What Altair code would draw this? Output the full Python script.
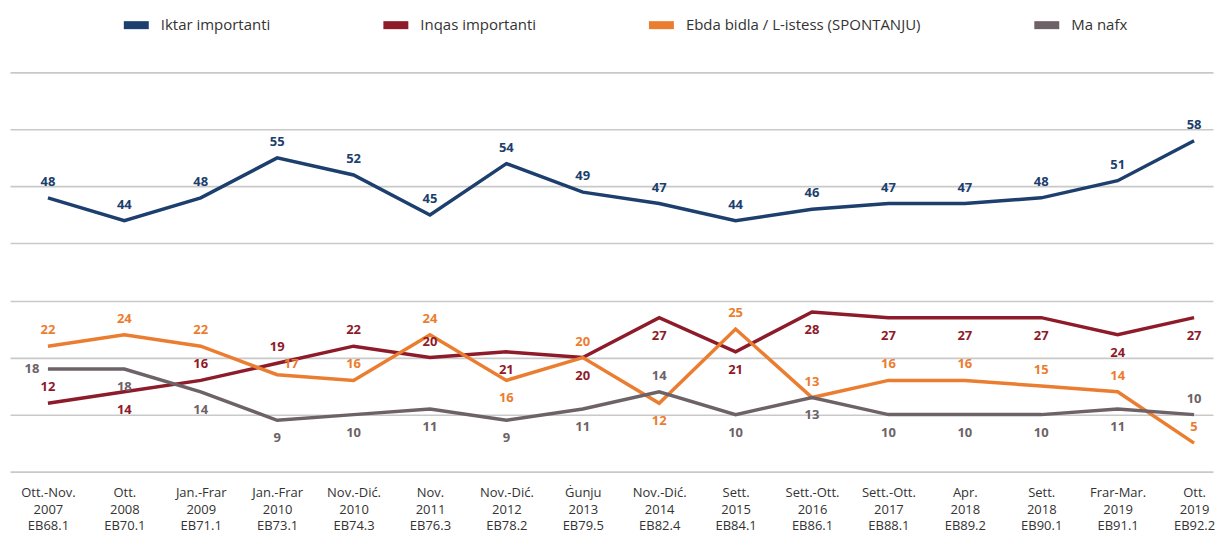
import json
import altair as alt
import pandas as pd

periods = [
    "Ott.-Nov.|2007|EB68.1", "Ott.|2008|EB70.1", "Jan.-Frar|2009|EB71.1",
    "Jan.-Frar|2010|EB73.1", "Nov.-Dić.|2010|EB74.3", "Nov.|2011|EB76.3",
    "Nov.-Dić.|2012|EB78.2", "Ġunju|2013|EB79.5", "Nov.-Dić.|2014|EB82.4",
    "Sett.|2015|EB84.1", "Sett.-Ott.|2016|EB86.1", "Sett.-Ott.|2017|EB88.1",
    "Apr.|2018|EB89.2", "Sett.|2018|EB90.1", "Frar-Mar.|2019|EB91.1",
    "Ott.|2019|EB92.2",
]

series = ["Iktar importanti", "Inqas importanti",
          "Ebda bidla / L-istess (SPONTANJU)", "Ma nafx"]
colors = ["#1d3f6e", "#8e1b2a", "#eb7d30", "#6d6268"]

iktar = [48, 44, 48, 55, 52, 45, 54, 49, 47, 44, 46, 47, 47, 48, 51, 58]
inqas = [12, 14, 16, 19, 22, 20, 21, 20, 27, 21, 28, 27, 27, 27, 24, 27]
ebda = [22, 24, 22, 17, 16, 24, 16, 20, 12, 25, 13, 16, 16, 15, 14, 5]
manafx = [18, 18, 14, 9, 10, 11, 9, 11, 14, 10, 13, 10, 10, 10, 11, 10]

# label side: a = above, b = below, l = left, ar = above-right
place_iktar = ["a"] * 16
place_inqas = ["a", "b", "a", "a", "a", "a", "b", "b", "b", "b", "b", "b", "b", "b", "b", "b"]
place_ebda = ["a", "a", "a", "ar", "a", "a", "b", "a", "b", "a", "a", "a", "a", "a", "a", "a"]
place_manafx = ["l", "b", "b", "b", "b", "b", "b", "b", "a", "b", "b", "b", "b", "b", "b", "a"]

rows = []
for name, vals, places in zip(series, [iktar, inqas, ebda, manafx],
                              [place_iktar, place_inqas, place_ebda, place_manafx]):
    for i, (v, p) in enumerate(zip(vals, places)):
        rows.append({"idx": i, "series": name, "value": v, "place": p,
                     "order": series.index(name)})
df = pd.DataFrame(rows)

label_expr = "split(" + json.dumps(periods, ensure_ascii=False) + "[datum.value], '|')"

x = alt.X("idx:Q",
          scale=alt.Scale(domain=[-0.4965, 15.248], nice=False, zero=False),
          axis=alt.Axis(values=list(range(16)), labelExpr=label_expr, title=None,
                        grid=False, domain=False, ticks=False, labelPadding=15,
                        labelFontSize=13, labelLineHeight=16.5, labelColor="#333333",
                        labelOverlap=False, labelFlush=False, labelBound=False))
y = alt.Y("value:Q",
          scale=alt.Scale(domain=[0, 70], nice=False),
          axis=alt.Axis(values=list(range(0, 71, 10)), labels=False, ticks=False,
                        domain=False, title=None, grid=True, gridColor="#c9c9c9",
                        gridWidth=1.6))

color_scale = alt.Scale(domain=series, range=colors)

lines = alt.Chart(df).mark_line(strokeWidth=3.5).encode(
    x=x, y=y,
    color=alt.Color("series:N", scale=color_scale, sort=series,
                    legend=alt.Legend(orient="none", legendX=110, legendY=-64,
                                      direction="horizontal", title=None, padding=0,
                                      labelFontSize=15, labelColor="#333333",
                                      symbolType="stroke", symbolStrokeWidth=8,
                                      symbolSize=625, columnPadding=97,
                                      labelLimit=400, labelOffset=8)),
    order="order:Q",
)

offsets = {"a": (0, -16), "b": (0, 18), "l": (-16, 0), "ar": (14, -11)}
layers = [lines]
for key, (dx, dy) in offsets.items():
    layers.append(
        alt.Chart(df).transform_filter(alt.datum.place == key)
        .mark_text(dx=dx, dy=dy, fontSize=13, fontWeight="bold", baseline="middle")
        .encode(x=x, y=y, text="value:Q",
                color=alt.Color("series:N", scale=color_scale, legend=None))
    )

chart = alt.layer(*layers).properties(
    width=1205, height=400,
    padding={"left": 2, "right": 0, "top": 0, "bottom": 0},
).configure(font="Open Sans").configure_view(stroke=None)

chart.save("out.html", embed_options={"renderer": "svg", "actions": False})
